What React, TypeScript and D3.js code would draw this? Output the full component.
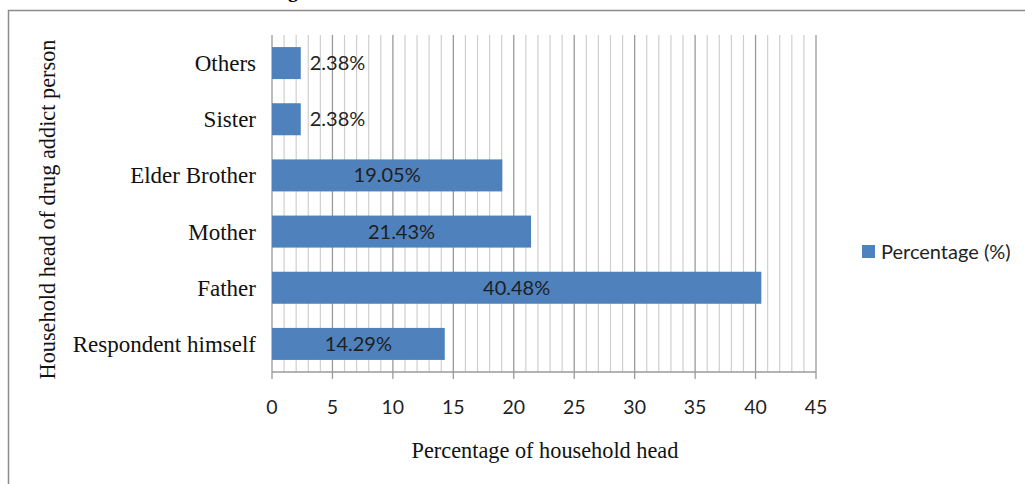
import React from 'react';
import * as d3 from 'd3';

const categories = ['Others', 'Sister', 'Elder Brother', 'Mother', 'Father', 'Respondent himself'];
const percentages = [2.38, 2.38, 19.05, 21.43, 40.48, 14.29];
const xTicks = [0, 5, 10, 15, 20, 25, 30, 35, 40, 45];
const minorTicks = d3.range(0, 46, 1);

const W = 1025;
const H = 484;
const serif = '"Liberation Serif", "Times New Roman", serif';
const sans = 'Lato, "Open Sans", sans-serif';

export default function App() {
  const left = 272;
  const right = 816;
  const top = 35;
  const bottom = 372;

  const x = d3.scaleLinear().domain([0, 45]).range([left, right]);
  const y = d3.scaleBand<string>()
    .domain(categories)
    .range([top, bottom])
    .paddingInner(0.43)
    .paddingOuter(0.215);

  return (
    <svg
      width={W}
      height={H}
      viewBox={`0 0 ${W} ${H}`}
      style={{ position: 'absolute', left: 0, top: 0, background: '#fff' }}
    >
      {/* caption fragment cut at the top of the reference */}
      <text x={288} y={-3} fontFamily={serif} fontWeight="bold" fontSize={20} fill="#000">g</text>

      {/* chart frame */}
      <rect x={8.5} y={10.5} width={1100} height={600} fill="none" stroke="#8c8c8c" strokeWidth={1.5} />

      {/* minor grid */}
      {minorTicks.filter(t => t % 5 !== 0).map(t => (
        <line key={'m' + t} x1={x(t)} x2={x(t)} y1={top} y2={bottom} stroke="#cfcfcf" strokeWidth={1.2} />
      ))}
      {/* major grid + ticks */}
      {xTicks.map(t => (
        <line key={'M' + t} x1={x(t)} x2={x(t)} y1={top} y2={bottom + 7} stroke="#9a9a9a" strokeWidth={1.3} />
      ))}
      {/* x axis line */}
      <line x1={left} x2={right} y1={bottom} y2={bottom} stroke="#9a9a9a" strokeWidth={1.3} />

      {/* bars */}
      {categories.map((c, i) => (
        <rect
          key={c}
          x={x(0)}
          y={y(c)}
          width={x(percentages[i]) - x(0)}
          height={y.bandwidth()}
          fill="#4f81bd"
        />
      ))}

      {/* bar labels */}
      {categories.map((c, i) => {
        const v = percentages[i];
        const outside = v < 5;
        return (
          <text
            key={'l' + c}
            x={outside ? x(v) + 9 : (x(0) + x(v)) / 2}
            y={(y(c) ?? 0) + y.bandwidth() / 2}
            dy="0.35em"
            textAnchor={outside ? 'start' : 'middle'}
            fontFamily={sans}
            fontSize={20}
            fill="#1f1f1f"
          >
            {v.toFixed(2)}%
          </text>
        );
      })}

      {/* category labels */}
      {categories.map(c => (
        <text
          key={'c' + c}
          x={left - 16}
          y={(y(c) ?? 0) + y.bandwidth() / 2}
          dy="0.35em"
          textAnchor="end"
          fontFamily={serif}
          fontSize={23}
          fill="#111"
        >
          {c}
        </text>
      ))}

      {/* x tick labels */}
      {xTicks.map(t => (
        <text key={'t' + t} x={x(t)} y={414} textAnchor="middle" fontFamily={sans} fontSize={19.5} fill="#1f1f1f">
          {t}
        </text>
      ))}

      {/* axis titles */}
      <text x={545} y={458} textAnchor="middle" fontFamily={serif} fontSize={22.3} fill="#111">
        Percentage of household head
      </text>
      <text
        transform={`translate(55, ${(top + bottom) / 2 + 6}) rotate(-90)`}
        textAnchor="middle"
        fontFamily={serif}
        fontSize={22.3}
        fill="#111"
      >
        Household head of drug addict person
      </text>

      {/* legend */}
      <rect x={862} y={245} width={13} height={13} fill="#4f81bd" />
      <text x={881} y={251.5} dy="0.35em" fontFamily={sans} fontSize={20} fill="#1f1f1f">
        Percentage (%)
      </text>
    </svg>
  );
}
